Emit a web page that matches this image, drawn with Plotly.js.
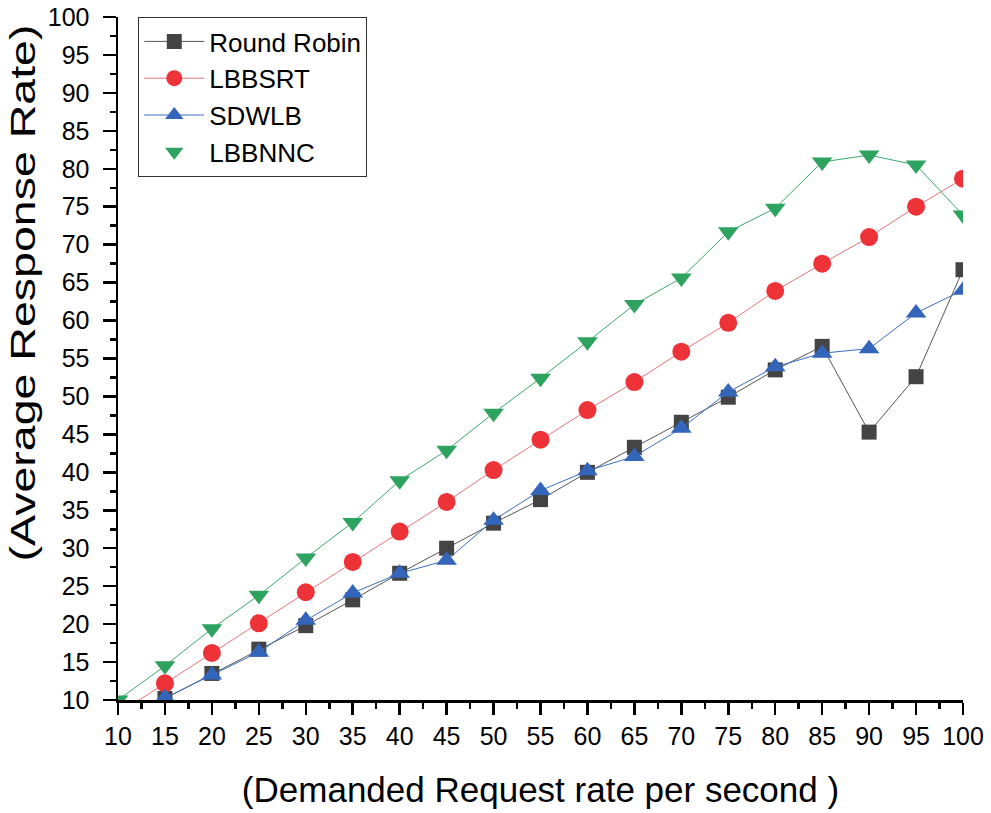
<!DOCTYPE html>
<html>
<head>
<meta charset="utf-8">
<script src="https://cdn.plot.ly/plotly-3.0.1.min.js"></script>
<style>html,body{margin:0;padding:0;background:#fff;}#chart{width:991px;height:813px;}</style>
</head>
<body>
<div id="chart"></div>
<script>
const xValues = [10, 15, 20, 25, 30, 35, 40, 45, 50, 55, 60, 65, 70, 75, 80, 85, 90, 95, 100];
const roundRobin = [7.0, 10.2, 13.5, 16.7, 19.8, 23.2, 26.7, 30.0, 33.3, 36.4, 40.0, 43.3, 46.6, 49.9, 53.5, 56.6, 45.3, 52.6, 66.7];
const lbbsrt = [8.2, 12.2, 16.2, 20.1, 24.2, 28.2, 32.2, 36.1, 40.3, 44.3, 48.2, 51.9, 55.9, 59.7, 63.9, 67.5, 71.0, 75.0, 78.7];
const sdwlb = [7.2, 10.3, 13.3, 16.3, 20.5, 24.1, 26.7, 28.4, 33.7, 37.6, 40.2, 42.1, 45.8, 50.6, 53.9, 55.7, 56.3, 61.0, 64.0];
const lbbnnc = [10.0, 14.5, 19.4, 23.8, 28.7, 33.4, 38.9, 42.9, 47.8, 52.4, 57.2, 62.1, 65.6, 71.7, 74.8, 80.9, 81.8, 80.5, 73.9];
const seriesNames = ['Round Robin', 'LBBSRT', 'SDWLB', 'LBBNNC'];
const xTickVals = [10, 15, 20, 25, 30, 35, 40, 45, 50, 55, 60, 65, 70, 75, 80, 85, 90, 95, 100];
const yTickVals = [10, 15, 20, 25, 30, 35, 40, 45, 50, 55, 60, 65, 70, 75, 80, 85, 90, 95, 100];

const traces = [
  {x: xValues, y: roundRobin, name: seriesNames[0], mode: 'lines+markers', cliponaxis: true,
   line: {color: '#555555', width: 1}, marker: {symbol: 'square', size: 15, color: '#444444'}},
  {x: xValues, y: lbbsrt, name: seriesNames[1], mode: 'lines+markers', cliponaxis: true,
   line: {color: '#e8737a', width: 1}, marker: {symbol: 'circle', size: 18, color: '#ee3338'}},
  {x: xValues, y: sdwlb, name: seriesNames[2], mode: 'lines+markers', cliponaxis: true,
   line: {color: '#3a6fc4', width: 1}, marker: {symbol: 'triangle-up', size: 18, color: '#3366bb'}},
  {x: xValues, y: lbbnnc, name: seriesNames[3], mode: 'lines', showlegend: false, cliponaxis: true,
   line: {color: '#3aa86a', width: 1}},
  {x: xValues, y: lbbnnc, name: seriesNames[3], mode: 'markers', cliponaxis: true,
   marker: {symbol: 'triangle-down', size: 18, color: '#2ea25f'}}
];

const fam = 'Liberation Sans, Arial, sans-serif';

const layout = {
  width: 991, height: 813,
  margin: {l: 118, r: 28, t: 17, b: 113},
  paper_bgcolor: '#fff', plot_bgcolor: '#fff',
  font: {family: fam, color: '#000'},
  showlegend: true,
  legend: {x: 0.024, y: 1.0, xanchor: 'left', yanchor: 'top',
    bordercolor: '#333', borderwidth: 1, bgcolor: '#fff',
    font: {family: fam, size: 26, color: '#000'}, itemwidth: 60, tracegroupgap: 0},
  xaxis: {
    range: [10, 100], tickvals: xTickVals, ticktext: xTickVals.map(String),
    showgrid: false, zeroline: false, showline: true, linecolor: '#000', linewidth: 2.5,
    ticks: 'outside', ticklen: 12, tickwidth: 2.5, tickcolor: '#000',
    minor: {dtick: 2.5, tick0: 10, ticks: 'outside', ticklen: 6, tickwidth: 2.5, tickcolor: '#000', showgrid: false},
    tickfont: {family: fam, size: 25, color: '#000'},
    title: {text: '(Demanded Request rate per second )', font: {family: fam, size: 35, color: '#000'}, standoff: 29}
  },
  yaxis: {
    range: [10, 100], tickvals: yTickVals, ticktext: yTickVals.map(String),
    showgrid: false, zeroline: false, showline: true, linecolor: '#000', linewidth: 2.5,
    ticks: 'outside', ticklen: 13, tickwidth: 2.5, tickcolor: '#000',
    minor: {dtick: 2.5, tick0: 10, ticks: 'outside', ticklen: 6, tickwidth: 2.5, tickcolor: '#000', showgrid: false},
    tickfont: {family: fam, size: 25, color: '#000'}, ticklabelstandoff: 8,
    title: {text: '(Average Response Rate)', font: {family: fam, size: 35, color: '#000'}, standoff: 8}
  }
};

Plotly.newPlot('chart', traces, layout, {displayModeBar: false, staticPlot: true}).then(function (gd) {
  // stretch the rotated y title along its length to match the reference proportions
  const t = gd.querySelector('.ytitle');
  if (!t) return;
  const host = gd.getBoundingClientRect();
  const r = t.getBoundingClientRect();
  const targetLen = 537, targetCy = 293, targetCx = 23;
  const s = targetLen / r.height;
  const cy = r.top - host.top + r.height / 2;
  const cx = r.left - host.left + r.width / 2;
  const orig = t.getAttribute('transform') || '';
  t.setAttribute('transform',
    'translate(' + (targetCx - cx) + ',' + (targetCy - cy) + ') translate(0,' + cy + ') scale(1,' + s + ') translate(0,' + (-cy) + ') ' + orig);
});
</script>
</body>
</html>
